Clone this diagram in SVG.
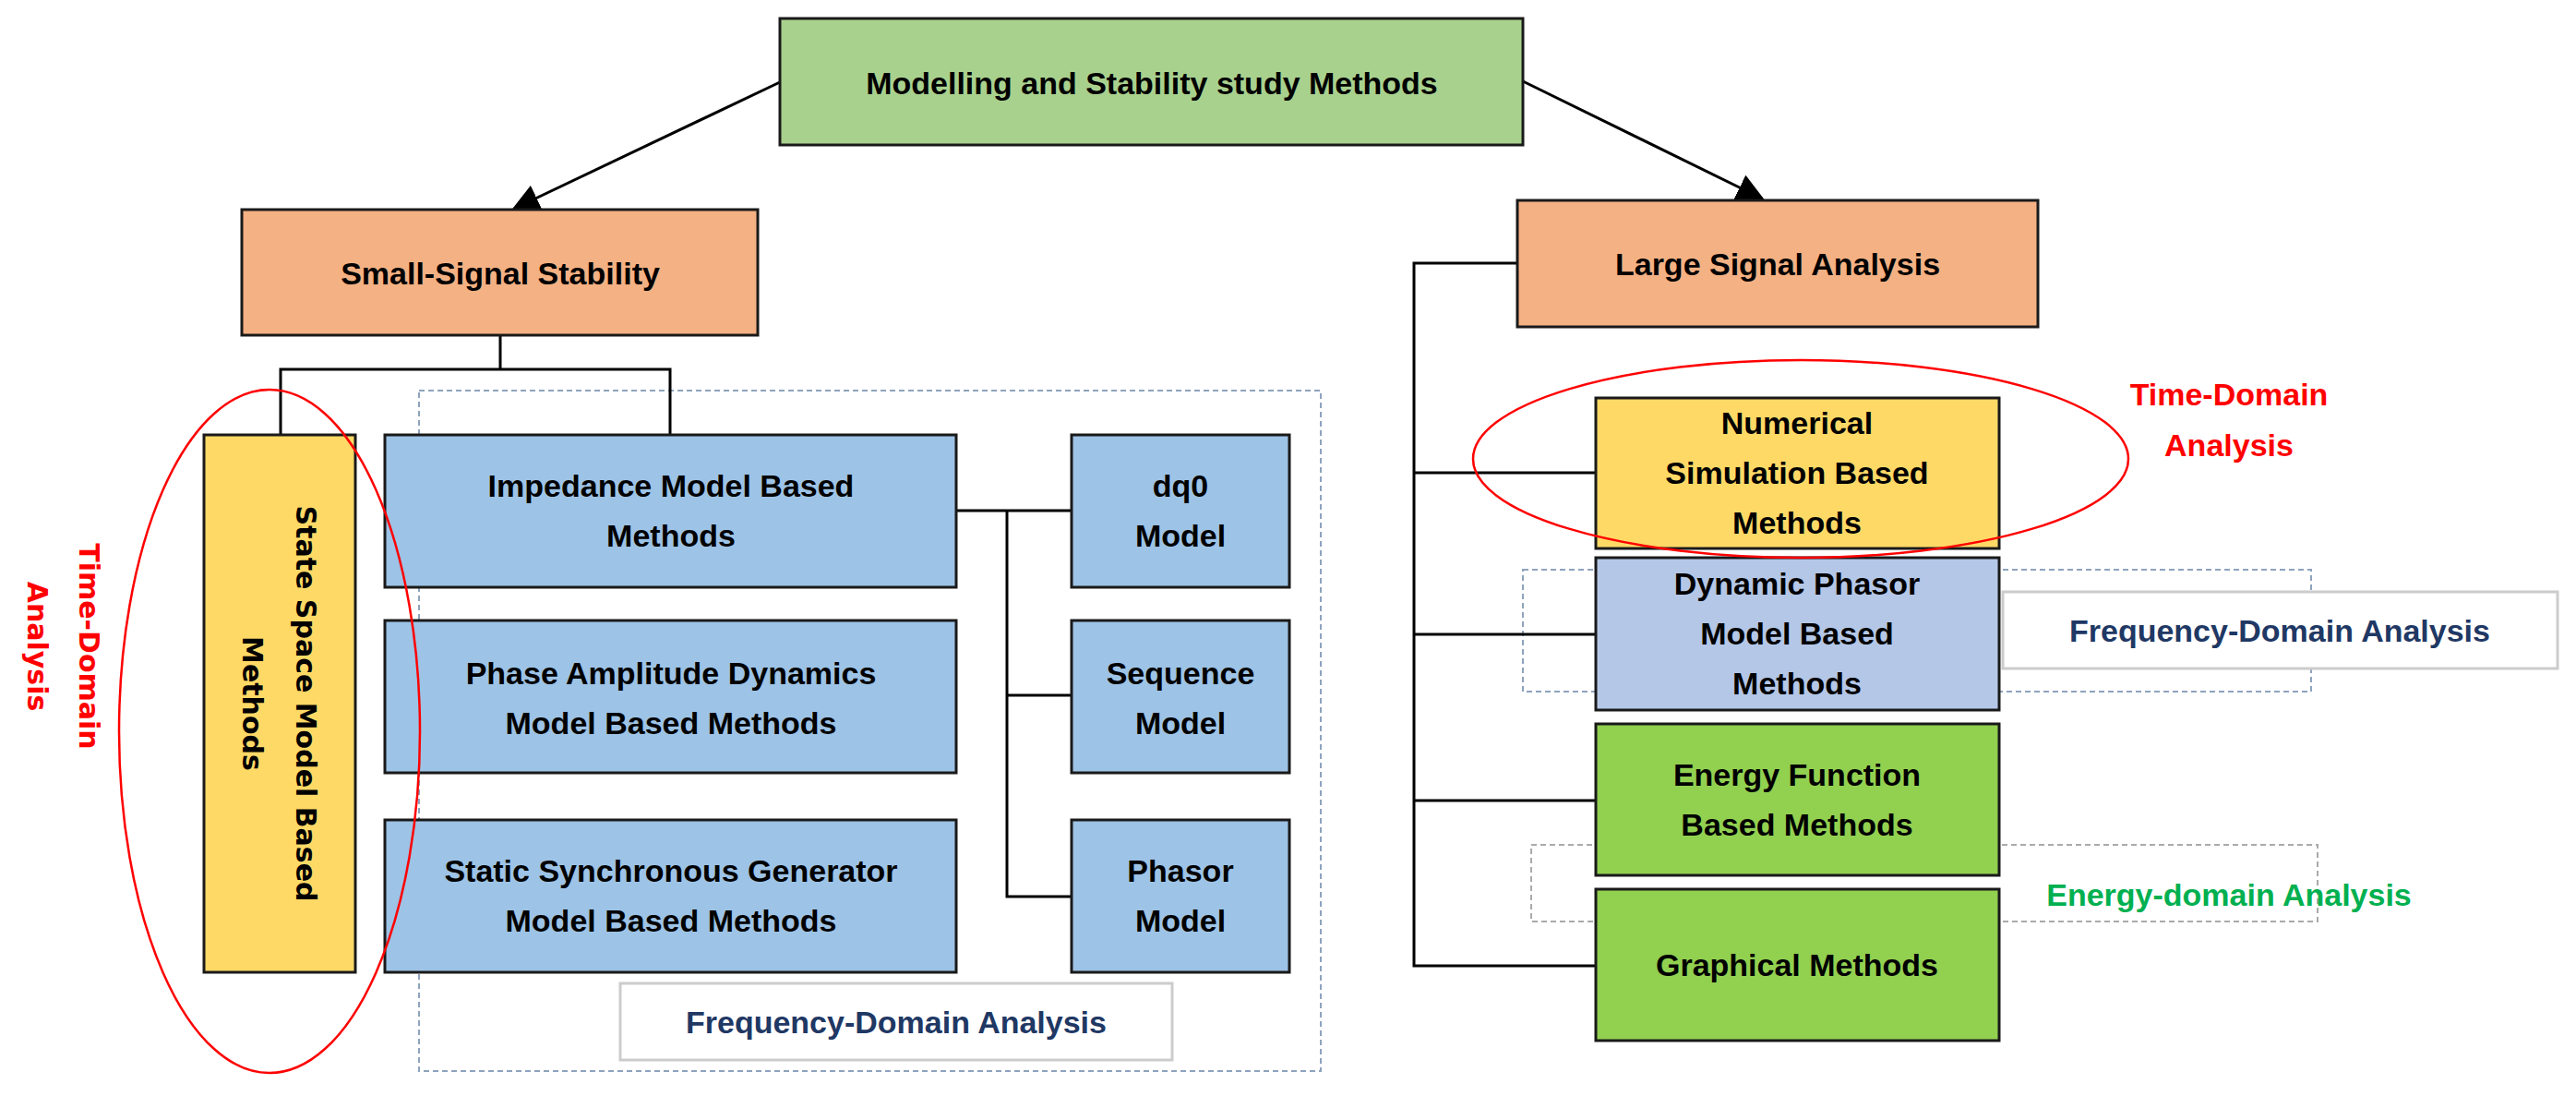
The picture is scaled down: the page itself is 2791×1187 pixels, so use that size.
<svg xmlns="http://www.w3.org/2000/svg" width="2791" height="1187" viewBox="0 0 2791 1187">
<style>
.b{stroke:#1a1a1a;stroke-width:3}
.t{font-family:"Liberation Sans",Arial,sans-serif;font-weight:bold;font-size:34px;fill:#000;text-anchor:middle;dominant-baseline:central}
.v{font-family:"DejaVu Sans",sans-serif;font-weight:bold;font-size:30px;fill:#000;text-anchor:middle;dominant-baseline:central}
.c{fill:none;stroke:#000;stroke-width:3}
.d{fill:none;stroke:#8ea3bd;stroke-width:2;stroke-dasharray:6 4}
.dg{fill:none;stroke:#aaa;stroke-width:2;stroke-dasharray:6 4}
.red{fill:#ff0000}
.lbl{fill:#fff;stroke:#ccc;stroke-width:3}
</style>
<defs><marker id="ah" markerWidth="10" markerHeight="10" refX="9" refY="5" orient="auto" markerUnits="strokeWidth"><path d="M0,0L10,5L0,10z" fill="#000"/></marker></defs>

<g id="dashed-regions">
<rect class="d" x="454" y="423" width="977" height="737"/>
<rect class="d" x="1650" y="617" width="854" height="132"/>
<rect class="dg" x="1659" y="915" width="852" height="83"/>
</g>

<g id="connectors">
<line class="c" x1="845" y1="89" x2="557" y2="226" marker-end="url(#ah)"/>
<line class="c" x1="1650" y1="88" x2="1909" y2="215" marker-end="url(#ah)"/>
<polyline class="c" points="542,363 542,400"/>
<polyline class="c" points="304,471 304,400 726,400 726,471"/>
<polyline class="c" points="1036,553 1161,553"/>
<polyline class="c" points="1091,553 1091,971 1161,971"/>
<polyline class="c" points="1091,753 1161,753"/>
<polyline class="c" points="1644,285 1532,285 1532,1046 1729,1046"/>
<polyline class="c" points="1532,512 1729,512"/>
<polyline class="c" points="1532,687 1729,687"/>
<polyline class="c" points="1532,867 1729,867"/>
</g>

<g id="n-top"><rect class="b" x="845" y="20" width="805" height="137" fill="#a9d18e"/><text class="t" x="1248" y="90">Modelling and Stability study Methods</text></g>
<g id="n-small"><rect class="b" x="262" y="227" width="559" height="136" fill="#f4b183"/><text class="t" x="542" y="296">Small-Signal Stability</text></g>
<g id="n-large"><rect class="b" x="1644" y="217" width="564" height="137" fill="#f4b183"/><text class="t" x="1926" y="286">Large Signal Analysis</text></g>

<g id="n-state"><rect class="b" x="221" y="471" width="164" height="582" fill="#ffd966"/>
<g transform="translate(303,762) rotate(90)"><text class="v" x="0" y="-28">State Space Model Based</text><text class="v" x="0" y="30">Methods</text></g></g>

<g id="n-imp"><rect class="b" x="417" y="471" width="619" height="165" fill="#9dc3e6"/><text class="t" x="727" y="526">Impedance Model Based</text><text class="t" x="727" y="580">Methods</text></g>
<g id="n-pad"><rect class="b" x="417" y="672" width="619" height="165" fill="#9dc3e6"/><text class="t" x="727" y="729">Phase Amplitude Dynamics</text><text class="t" x="727" y="783">Model Based Methods</text></g>
<g id="n-ssg"><rect class="b" x="417" y="888" width="619" height="165" fill="#9dc3e6"/><text class="t" x="727" y="943">Static Synchronous Generator</text><text class="t" x="727" y="997">Model Based Methods</text></g>
<g id="n-dq0"><rect class="b" x="1161" y="471" width="236" height="165" fill="#9dc3e6"/><text class="t" x="1279" y="526">dq0</text><text class="t" x="1279" y="580">Model</text></g>
<g id="n-seq"><rect class="b" x="1161" y="672" width="236" height="165" fill="#9dc3e6"/><text class="t" x="1279" y="729">Sequence</text><text class="t" x="1279" y="783">Model</text></g>
<g id="n-phasor"><rect class="b" x="1161" y="888" width="236" height="165" fill="#9dc3e6"/><text class="t" x="1279" y="943">Phasor</text><text class="t" x="1279" y="997">Model</text></g>

<g id="n-num"><rect class="b" x="1729" y="431" width="437" height="163" fill="#ffd966"/><text class="t" x="1947" y="458">Numerical</text><text class="t" x="1947" y="512">Simulation Based</text><text class="t" x="1947" y="566">Methods</text></g>
<g id="n-dyn"><rect class="b" x="1729" y="604" width="437" height="165" fill="#b4c7e7"/><text class="t" x="1947" y="632">Dynamic Phasor</text><text class="t" x="1947" y="686">Model Based</text><text class="t" x="1947" y="740">Methods</text></g>
<g id="n-energy"><rect class="b" x="1729" y="784" width="437" height="164" fill="#92d050"/><text class="t" x="1947" y="839">Energy Function</text><text class="t" x="1947" y="893">Based Methods</text></g>
<g id="n-graph"><rect class="b" x="1729" y="963" width="437" height="164" fill="#92d050"/><text class="t" x="1947" y="1045">Graphical Methods</text></g>

<g id="annotations">
<ellipse cx="292" cy="792" rx="163" ry="370" fill="none" stroke="#ff0000" stroke-width="2.5"/>
<ellipse cx="1951" cy="497" rx="355" ry="107" fill="none" stroke="#ff0000" stroke-width="2.5"/>
<g transform="translate(70,700) rotate(90)"><text class="v red" x="0" y="-26" font-size="34">Time-Domain</text><text class="v red" x="0" y="30" font-size="34">Analysis</text></g>
<text class="t red" x="2415" y="427">Time-Domain</text>
<text class="t red" x="2415" y="482">Analysis</text>
<rect class="lbl" x="672" y="1065" width="598" height="83"/>
<text class="t" x="971" y="1107" fill="#1f3864" style="fill:#1f3864">Frequency-Domain Analysis</text>
<rect class="lbl" x="2170" y="641" width="601" height="83"/>
<text class="t" x="2470" y="683" style="fill:#1f3864">Frequency-Domain Analysis</text>
<text class="t" x="2415" y="969" style="fill:#00b050">Energy-domain Analysis</text>
</g>
</svg>
